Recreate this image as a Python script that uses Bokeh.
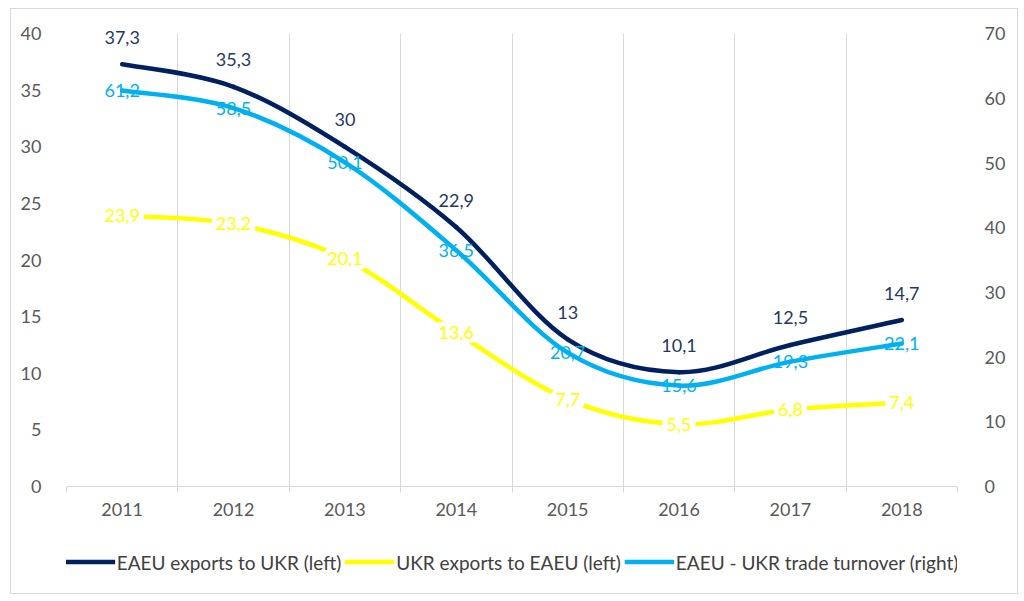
from bokeh.plotting import figure
from bokeh.layouts import column
from bokeh.models import (ColumnDataSource, Range1d, LinearAxis, FixedTicker,
                          LabelSet, Legend, LegendItem, Grid)
from bokeh.core.properties import value
from bokeh.embed import file_html
from bokeh.resources import INLINE

years = ["2011", "2012", "2013", "2014", "2015", "2016", "2017", "2018"]
eaeu_exports = [37.3, 35.3, 30.0, 22.9, 13.0, 10.1, 12.5, 14.7]
ukr_exports = [23.9, 23.2, 20.1, 13.6, 7.7, 5.5, 6.8, 7.4]
turnover = [61.2, 58.5, 50.1, 36.5, 20.7, 15.6, 19.3, 22.1]
left_ticks = [0, 5, 10, 15, 20, 25, 30, 35, 40]
right_ticks = [0, 10, 20, 30, 40, 50, 60, 70]
series_names = ["EAEU exports to UKR (left)", "UKR exports to EAEU (left)",
                "EAEU - UKR trade turnover (right)"]

NAVY = "#002060"
NAVY_TXT = "#1f3864"
YELLOW = "#ffff00"
LBLUE = "#00b0f0"
GRID = "#d9d9d9"
TICK_TXT = "#595959"
FONT = "Lato"
FS = "18px"

n = len(years)
xs = list(range(n))
bounds_x = [i - 0.5 for i in range(n + 1)]

# a little headroom above the top tick so labels there are not clipped
HEAD = 1.04
left_top = left_ticks[-1] * HEAD
right_top = right_ticks[-1] * HEAD


def fmt(v):
    return f"{v:.1f}".rstrip("0").rstrip(".").replace(".", ",")


def bezier_source(vals):
    d = dict(x0=[], y0=[], x1=[], y1=[], cx0=[], cy0=[], cx1=[], cy1=[])
    for i in range(n - 1):
        a = max(i - 1, 0)
        b = min(i + 2, n - 1)
        d["x0"].append(xs[i]); d["y0"].append(vals[i])
        d["x1"].append(xs[i + 1]); d["y1"].append(vals[i + 1])
        d["cx0"].append(xs[i] + (xs[i + 1] - xs[a]) / 6)
        d["cy0"].append(vals[i] + (vals[i + 1] - vals[a]) / 6)
        d["cx1"].append(xs[i + 1] - (xs[b] - xs[i]) / 6)
        d["cy1"].append(vals[i + 1] - (vals[b] - vals[i]) / 6)
    return ColumnDataSource(d)


W = 1006
p = figure(width=W, height=521, output_backend="svg", toolbar_location=None,
           x_range=Range1d(-0.5, n - 0.5), y_range=Range1d(0, left_top),
           min_border_left=55, min_border_right=60, min_border_top=6,
           min_border_bottom=44, background_fill_color="white",
           border_fill_color="white", outline_line_color=None)
p.extra_y_ranges = {"right": Range1d(0, right_top)}

# axes
p.xaxis.ticker = FixedTicker(ticks=xs, minor_ticks=bounds_x)
p.xaxis.major_label_overrides = {i: y for i, y in enumerate(years)}
p.xaxis.major_tick_line_color = None
p.xaxis.minor_tick_line_color = GRID
p.xaxis.minor_tick_out = 6
p.xaxis.minor_tick_in = 0
p.xaxis.axis_line_color = GRID
p.xaxis.major_label_standoff = 10

p.yaxis.ticker = FixedTicker(ticks=left_ticks)
p.yaxis.axis_line_color = None
p.yaxis.major_tick_line_color = None
p.yaxis.minor_tick_line_color = None
p.yaxis.major_label_standoff = 19

raxis = LinearAxis(y_range_name="right", ticker=FixedTicker(ticks=right_ticks),
                   axis_line_color=None, major_tick_line_color=None,
                   minor_tick_line_color=None, major_label_standoff=21)
p.add_layout(raxis, "right")

for ax in [p.xaxis[0], p.yaxis[0], raxis]:
    ax.major_label_text_font = FONT
    ax.major_label_text_font_size = FS
    ax.major_label_text_color = TICK_TXT

p.ygrid.grid_line_color = None
if "cross_bounds" in Grid.properties():
    p.xgrid.ticker = FixedTicker(ticks=bounds_x)
    p.xgrid.grid_line_color = GRID
    p.xgrid.cross_bounds = (left_ticks[0], left_ticks[-1])
else:
    p.xgrid.grid_line_color = None
    p.segment(x0=bounds_x, y0=[left_ticks[0]] * len(bounds_x),
              x1=bounds_x, y1=[left_ticks[-1]] * len(bounds_x),
              line_color=GRID, line_width=1)

# lines
bz = dict(x0="x0", y0="y0", x1="x1", y1="y1", cx0="cx0", cy0="cy0", cx1="cx1", cy1="cy1",
          line_width=4.5, line_cap="round")
r_navy = p.bezier(source=bezier_source(eaeu_exports), line_color=NAVY, **bz)
r_yel = p.bezier(source=bezier_source(ukr_exports), line_color=YELLOW, **bz)
r_blue = p.bezier(source=bezier_source(turnover), line_color=LBLUE,
                  y_range_name="right", **bz)

# labels
src_navy = ColumnDataSource(dict(x=xs, y=eaeu_exports, t=[fmt(v) for v in eaeu_exports]))
src_yel = ColumnDataSource(dict(x=xs, y=ukr_exports, t=[fmt(v) for v in ukr_exports]))
src_blue = ColumnDataSource(dict(x=xs, y=turnover, t=[fmt(v) for v in turnover]))

yel_labels = LabelSet(x="x", y="y", text="t", source=src_yel, text_align="center",
                      text_baseline="middle", text_color=YELLOW,
                      text_font=value(FONT), text_font_size=FS,
                      background_fill_color="white",
                      border_line_color="white", border_line_width=8)
if "padding" in LabelSet.properties():
    yel_labels.padding = 4
p.add_layout(yel_labels)
p.add_layout(LabelSet(x="x", y="y", text="t", source=src_navy, text_align="center",
                      text_baseline="middle", y_offset=27, text_color=NAVY_TXT,
                      text_font=value(FONT), text_font_size=FS))
p.add_layout(LabelSet(x="x", y="y", text="t", source=src_blue, text_align="center",
                      text_baseline="middle", text_color=LBLUE, y_range_name="right",
                      text_font=value(FONT), text_font_size=FS))

# legend in its own strip below the chart
lg = figure(width=W, height=63, output_backend="svg", toolbar_location=None,
            x_range=Range1d(0, 1), y_range=Range1d(0, 1),
            x_axis_type=None, y_axis_type=None, min_border=0,
            background_fill_color="white", border_fill_color="white",
            outline_line_color=None)
lg.xgrid.visible = False
lg.ygrid.visible = False
nan = float("nan")
keys = []
for c in [NAVY, YELLOW, LBLUE]:
    keys.append(lg.line(x="x", y="y", source=ColumnDataSource(dict(x=[nan, nan], y=[nan, nan])),
                        line_color=c, line_width=4.5))
legend = Legend(items=[LegendItem(label=nm, renderers=[r]) for nm, r in zip(series_names, keys)],
                orientation="horizontal", location="center",
                glyph_width=50, glyph_height=20, label_standoff=2, spacing=3,
                padding=0, margin=0, border_line_color=None,
                background_fill_alpha=0,
                label_text_font=FONT, label_text_font_size="19px",
                label_text_color="#404040")
lg.add_layout(legend, "center")

layout = column(p, lg, spacing=0)
layout.styles = {"border": "1px solid #d9d9d9", "margin-left": "10px", "margin-top": "8px"}

open("out.html", "w").write(file_html(layout, INLINE))
